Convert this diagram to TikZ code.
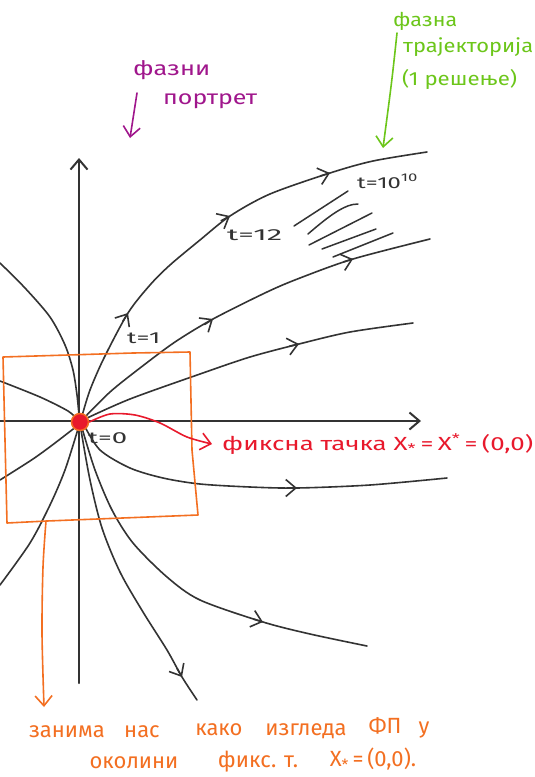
\documentclass[tikz,border=0pt]{standalone}
\usepackage{fontspec}
\usepackage{graphicx}
\setmainfont{Fira Sans}
\usetikzlibrary{arrows.meta}
\definecolor{ink}{HTML}{333333}
\definecolor{fpred}{HTML}{E8192C}
\definecolor{fporange}{HTML}{F36F21}
\definecolor{fpgreen}{HTML}{6CC61A}
\definecolor{fppurple}{HTML}{A0168C}
\newcommand{\fitx}[2]{\resizebox{#1}{\height}{#2}}
\tikzset{
  traj/.style={draw=ink, line width=1.6pt, line cap=round, line join=round},
  axisline/.style={draw=ink, line width=2pt, line cap=round},
  barb/.style={-{Straight Barb[length=10pt,width=17pt]}},
  ah/.pic={\draw[barb] (-10pt,0) -- (0,0);},
  hatch/.style={draw=ink, line width=1.5pt, line cap=round},
  redline/.style={draw=fpred, line width=1.6pt, line cap=round},
  orangeline/.style={draw=fporange, line width=1.6pt, line cap=round, line join=round},
  greenline/.style={draw=fpgreen, line width=1.6pt, line cap=round},
  purpleline/.style={draw=fppurple, line width=1.6pt, line cap=round},
  txt/.style={inner sep=0pt, anchor=base west},
  tlab/.style={txt, text=ink, font=\fontsize{16}{16}\selectfont},
  redtxt/.style={txt, text=fpred, font=\fontsize{19}{19}\selectfont},
  greentxt/.style={txt, text=fpgreen, font=\fontsize{19}{19}\selectfont},
  purpletxt/.style={txt, text=fppurple, font=\fontsize{20}{20}\selectfont},
  orangetxt/.style={inner sep=0pt, anchor=base, text=fporange, font=\fontsize{22}{22}\selectfont},
}
\begin{document}
\begin{tikzpicture}[x=1pt,y=-1pt]
\useasboundingbox (0,0) rectangle (535,777);
\fill[white] (0,0) rectangle (535,777);

% axes
\coordinate (yb) at (79,683);
\coordinate (yt) at (79,158);
\coordinate (xl) at (0,421);
\coordinate (xr) at (421,421);
\draw[axisline, barb] (yb) -- (yt);
\draw[axisline, barb] (xl) -- (xr);

% trajectories
\draw[traj] plot[smooth] coordinates {(82,416) (90,390) (104,358) (128,313) (150,285) (170,265) (200,240) (230,216) (270,194) (330,173) (373,161) (427,152)};
\pic[traj, rotate=58] at (128,313) {ah};
\pic[traj, rotate=28] at (230,216) {ah};
\pic[traj, rotate=17] at (330,173) {ah};

\draw[traj] plot[smooth] coordinates {(84,418) (110,392) (140,368) (175,342) (213,319) (267,292) (300,278) (353,259) (430,239)};
\pic[traj, rotate=33] at (213,319) {ah};
\pic[traj, rotate=17] at (353,259) {ah};

\draw[traj] plot[smooth] coordinates {(85,419) (130,399) (200,374) (250,357) (299,344) (350,332) (413,323)};
\pic[traj, rotate=13] at (299,344) {ah};

\draw[traj] plot[smooth] coordinates {(84,425) (100,450) (130,468) (163,478) (200,484) (250,487) (297,488) (370,485) (447,478)};
\pic[traj, rotate=0] at (297,488) {ah};

\draw[traj] plot[smooth] coordinates {(82,428) (95,470) (112,510) (133,543) (167,577) (200,600) (263,622) (310,634) (367,646)};
\pic[traj, rotate=-17] at (263,622) {ah};

\draw[traj] plot[smooth] coordinates {(81,430) (90,480) (102,528) (120,572) (143,612) (167,650) (182,677) (197,700)};
\pic[traj, rotate=-60] at (182,677) {ah};

\draw[traj] plot[smooth] coordinates {(77,426) (55,443) (33,459) (0,480)};
\draw[traj] plot[smooth] coordinates {(78,429) (65,470) (50,505) (30,543) (0,585)};
\draw[traj] plot[smooth] coordinates {(0,263) (25,288) (50,317) (65,345) (73,370) (77,395) (79,415)};
\draw[traj] plot[smooth] coordinates {(0,381) (40,397) (68,411) (78,420)};

% hatch strokes near t = 10^10
\draw[hatch] (294,226) -- (348,191);
\draw[hatch] (308,234) .. controls (330,215) and (345,204) .. (358,204);
\draw[hatch] (309,245) -- (372,213);
\draw[hatch] (322,249) -- (376,229);
\draw[hatch] (333,257) -- (393,233);

% orange neighbourhood box and connector
\draw[orangeline] (3,357) -- (133,353) -- (190,352) -- (192,450) -- (198,515) -- (47,521) -- (7,523) -- cycle;
\coordinate (boxb) at (46,521);
\coordinate (boxarrow) at (44,707);
\draw[orangeline, barb] plot[smooth] coordinates {(boxb) (43,567) (42,633) (boxarrow)};

% fixed point
\node[circle, fill=fpred, draw=fporange, line width=1.5pt, minimum size=17pt, inner sep=0pt] (O) at (80,422) {};
\coordinate (fxarrow) at (212,444);
\draw[redline, barb] plot[smooth] coordinates {(O.east) (110,414) (135,415) (160,423) (187,437) (fxarrow)};

% labels on the trajectories
\node[tlab] (t1) at (127,343) {\fitx{33pt}{t=1}};
\node[tlab] (t0) at (88,443) {\fitx{39pt}{t=0}};
\node[tlab] (t12) at (227,240) {\fitx{55pt}{t=12}};
\node[tlab] (t1010) at (357,188) {\fitx{61pt}{t=10\textsuperscript{10}}};

% red label
\node[redtxt] (fx) at (222,450) {\fitx{311pt}{фиксна тачка X\textsubscript{*}\,=\,X\textsuperscript{*}\,=\,(0,0)}};

% green label
\node[greentxt] (g1) at (393,26) {\fitx{64pt}{фазна}};
\node[greentxt] (g2) at (403,52) {\fitx{130pt}{трајекторија}};
\node[greentxt] (g3) at (402,85) {\fitx{115pt}{(1 решење)}};
\coordinate (gs) at (397,33);
\coordinate (gt) at (383,148);
\draw[greenline, barb] (gs) .. controls (392,80) .. (gt);

% purple label
\node[purpletxt] (p1) at (133,75) {\fitx{77pt}{фазни}};
\node[purpletxt] (p2) at (163,104) {\fitx{94pt}{портрет}};
\coordinate (ps) at (137,93);
\coordinate (pt) at (130,138);
\draw[purpleline, barb] (ps) -- (pt);

% orange text
\node[orangetxt] (o1) at (67,737) {занима};
\node[orangetxt] (o1b) at (142,737) {нас};
\node[orangetxt] (o2) at (219,735) {како};
\node[orangetxt] (o3) at (306,735) {изгледа};
\node[orangetxt] (o4) at (385,733) {ФП};
\node[orangetxt] (o5) at (424,733) {у};
\node[orangetxt] (o6) at (134,768) {околини};
\node[orangetxt] (o7) at (258,767) {фикс. т.};
\node[orangetxt] (o8) at (373,766) {X\textsubscript{*}\,=\,(0,0).};
\end{tikzpicture}
\end{document}
